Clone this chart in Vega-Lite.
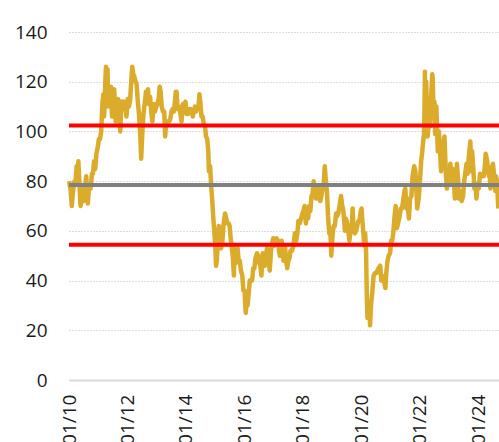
{
  "$schema": "https://vega.github.io/schema/vega-lite/v6.json",
  "width": 430,
  "height": 348,
  "autosize": {"type": "none"},
  "padding": {"left": 69, "top": 32, "right": 0, "bottom": 62},
  "config": {"view": {"stroke": null}, "font": "Open Sans"},
  "layer": [
    {
      "data": {"values": [
        {"date":"2010-01-04","price":80},{"date":"2010-01-12","price":78},{"date":"2010-01-20","price":77},{"date":"2010-02-05","price":70},{"date":"2010-02-15","price":74},{"date":"2010-02-25","price":77},{"date":"2010-03-10","price":80},{"date":"2010-03-25","price":80},{"date":"2010-04-06","price":86},{"date":"2010-04-20","price":84},{"date":"2010-04-28","price":88},{"date":"2010-05-10","price":80},{"date":"2010-05-25","price":70},{"date":"2010-06-08","price":72},{"date":"2010-06-21","price":78},{"date":"2010-07-01","price":72},{"date":"2010-07-15","price":76},{"date":"2010-08-04","price":82},{"date":"2010-08-24","price":71},{"date":"2010-09-10","price":78},{"date":"2010-09-28","price":77},{"date":"2010-10-15","price":83},{"date":"2010-10-28","price":83},{"date":"2010-11-10","price":88},{"date":"2010-11-25","price":85},{"date":"2010-12-10","price":91},{"date":"2010-12-28","price":94},
        {"date":"2011-01-10","price":97},{"date":"2011-01-25","price":97},{"date":"2011-02-07","price":100},{"date":"2011-02-24","price":112},{"date":"2011-03-08","price":115},{"date":"2011-03-16","price":106},{"date":"2011-03-25","price":115},{"date":"2011-04-08","price":126},{"date":"2011-04-15","price":123},{"date":"2011-04-28","price":125},{"date":"2011-05-06","price":110},{"date":"2011-05-13","price":113},{"date":"2011-05-25","price":115},{"date":"2011-06-10","price":118},{"date":"2011-06-23","price":106},{"date":"2011-07-05","price":112},{"date":"2011-07-20","price":117},{"date":"2011-08-08","price":104},{"date":"2011-08-22","price":108},{"date":"2011-09-05","price":113},{"date":"2011-09-20","price":110},{"date":"2011-10-04","price":100},{"date":"2011-10-18","price":112},{"date":"2011-11-02","price":109},{"date":"2011-11-15","price":112},{"date":"2011-12-05","price":110},{"date":"2011-12-20","price":106},
        {"date":"2012-01-05","price":113},{"date":"2012-01-20","price":110},{"date":"2012-02-03","price":112},{"date":"2012-02-20","price":121},{"date":"2012-03-01","price":126},{"date":"2012-03-15","price":123},{"date":"2012-03-28","price":122},{"date":"2012-04-12","price":120},{"date":"2012-04-25","price":119},{"date":"2012-05-10","price":112},{"date":"2012-05-25","price":107},{"date":"2012-06-12","price":97},{"date":"2012-06-21","price":89},{"date":"2012-07-05","price":99},{"date":"2012-07-20","price":107},{"date":"2012-08-08","price":112},{"date":"2012-08-20","price":116},{"date":"2012-09-07","price":115},{"date":"2012-09-14","price":117},{"date":"2012-09-25","price":111},{"date":"2012-10-10","price":114},{"date":"2012-10-25","price":108},{"date":"2012-11-08","price":104},{"date":"2012-11-25","price":111},{"date":"2012-12-10","price":108},{"date":"2012-12-28","price":110},
        {"date":"2013-01-10","price":111},{"date":"2013-01-25","price":113},{"date":"2013-02-08","price":118},{"date":"2013-02-20","price":116},{"date":"2013-03-05","price":110},{"date":"2013-03-20","price":108},{"date":"2013-04-05","price":108},{"date":"2013-04-17","price":98},{"date":"2013-05-02","price":104},{"date":"2013-05-20","price":104},{"date":"2013-06-05","price":104},{"date":"2013-06-20","price":105},{"date":"2013-07-05","price":108},{"date":"2013-07-19","price":109},{"date":"2013-08-05","price":108},{"date":"2013-08-28","price":116},{"date":"2013-09-06","price":116},{"date":"2013-09-20","price":109},{"date":"2013-10-08","price":110},{"date":"2013-10-25","price":107},{"date":"2013-11-07","price":104},{"date":"2013-11-25","price":111},{"date":"2013-12-10","price":109},{"date":"2013-12-27","price":112},
        {"date":"2014-01-10","price":107},{"date":"2014-01-28","price":107},{"date":"2014-02-12","price":109},{"date":"2014-02-27","price":109},{"date":"2014-03-14","price":108},{"date":"2014-03-28","price":106},{"date":"2014-04-10","price":108},{"date":"2014-04-25","price":110},{"date":"2014-05-09","price":108},{"date":"2014-05-23","price":110},{"date":"2014-06-06","price":109},{"date":"2014-06-19","price":115},{"date":"2014-06-30","price":112},{"date":"2014-07-15","price":106},{"date":"2014-07-30","price":106},{"date":"2014-08-13","price":103},{"date":"2014-08-28","price":102},{"date":"2014-09-10","price":98},{"date":"2014-09-25","price":97},{"date":"2014-10-08","price":92},{"date":"2014-10-16","price":84},{"date":"2014-10-31","price":86},{"date":"2014-11-13","price":78},{"date":"2014-11-27","price":72},{"date":"2014-12-10","price":65},{"date":"2014-12-22","price":60},
        {"date":"2015-01-05","price":53},{"date":"2015-01-13","price":46},{"date":"2015-01-23","price":48},{"date":"2015-02-05","price":57},{"date":"2015-02-17","price":62},{"date":"2015-03-03","price":60},{"date":"2015-03-17","price":53},{"date":"2015-04-01","price":55},{"date":"2015-04-15","price":62},{"date":"2015-05-06","price":67},{"date":"2015-05-20","price":65},{"date":"2015-06-05","price":63},{"date":"2015-06-19","price":63},{"date":"2015-07-02","price":62},{"date":"2015-07-15","price":57},{"date":"2015-07-29","price":53},{"date":"2015-08-10","price":50},{"date":"2015-08-24","price":42},{"date":"2015-08-31","price":53},{"date":"2015-09-15","price":47},{"date":"2015-09-30","price":48},{"date":"2015-10-09","price":53},{"date":"2015-10-23","price":48},{"date":"2015-11-06","price":48},{"date":"2015-11-20","price":44},{"date":"2015-12-07","price":42},{"date":"2015-12-21","price":36},
        {"date":"2016-01-05","price":36},{"date":"2016-01-15","price":29},{"date":"2016-01-20","price":27},{"date":"2016-02-01","price":34},{"date":"2016-02-11","price":30},{"date":"2016-02-25","price":35},{"date":"2016-03-10","price":40},{"date":"2016-03-24","price":40},{"date":"2016-04-08","price":40},{"date":"2016-04-22","price":45},{"date":"2016-05-06","price":45},{"date":"2016-05-20","price":49},{"date":"2016-06-08","price":51},{"date":"2016-06-22","price":50},{"date":"2016-07-06","price":47},{"date":"2016-07-20","price":46},{"date":"2016-08-02","price":42},{"date":"2016-08-19","price":51},{"date":"2016-09-01","price":46},{"date":"2016-09-15","price":46},{"date":"2016-09-29","price":49},{"date":"2016-10-10","price":53},{"date":"2016-10-25","price":50},{"date":"2016-11-14","price":44},{"date":"2016-11-30","price":52},{"date":"2016-12-14","price":55},{"date":"2016-12-28","price":57},
        {"date":"2017-01-10","price":54},{"date":"2017-01-25","price":55},{"date":"2017-02-10","price":57},{"date":"2017-02-24","price":56},{"date":"2017-03-10","price":52},{"date":"2017-03-22","price":50},{"date":"2017-04-12","price":56},{"date":"2017-04-26","price":52},{"date":"2017-05-05","price":48},{"date":"2017-05-24","price":54},{"date":"2017-06-07","price":48},{"date":"2017-06-21","price":45},{"date":"2017-07-05","price":48},{"date":"2017-07-19","price":49},{"date":"2017-08-01","price":52},{"date":"2017-08-18","price":52},{"date":"2017-09-06","price":54},{"date":"2017-09-25","price":59},{"date":"2017-10-10","price":56},{"date":"2017-10-26","price":59},{"date":"2017-11-07","price":64},{"date":"2017-11-24","price":63},{"date":"2017-12-12","price":65},{"date":"2017-12-27","price":67},
        {"date":"2018-01-08","price":68},{"date":"2018-01-24","price":70},{"date":"2018-02-09","price":63},{"date":"2018-02-23","price":67},{"date":"2018-03-09","price":65},{"date":"2018-03-23","price":70},{"date":"2018-04-06","price":68},{"date":"2018-04-20","price":74},{"date":"2018-05-04","price":75},{"date":"2018-05-17","price":80},{"date":"2018-05-30","price":77},{"date":"2018-06-15","price":73},{"date":"2018-06-27","price":77},{"date":"2018-07-10","price":78},{"date":"2018-07-24","price":73},{"date":"2018-08-08","price":72},{"date":"2018-08-22","price":74},{"date":"2018-09-05","price":77},{"date":"2018-09-20","price":79},{"date":"2018-10-03","price":86},{"date":"2018-10-17","price":80},{"date":"2018-10-30","price":76},{"date":"2018-11-13","price":66},{"date":"2018-11-28","price":59},{"date":"2018-12-12","price":60},{"date":"2018-12-24","price":50},
        {"date":"2019-01-08","price":58},{"date":"2019-01-22","price":62},{"date":"2019-02-05","price":62},{"date":"2019-02-22","price":67},{"date":"2019-03-08","price":66},{"date":"2019-03-22","price":67},{"date":"2019-04-05","price":70},{"date":"2019-04-24","price":74},{"date":"2019-05-10","price":70},{"date":"2019-05-24","price":68},{"date":"2019-06-12","price":60},{"date":"2019-06-21","price":65},{"date":"2019-07-05","price":64},{"date":"2019-07-18","price":62},{"date":"2019-08-07","price":56},{"date":"2019-08-22","price":60},{"date":"2019-09-06","price":61},{"date":"2019-09-16","price":69},{"date":"2019-09-30","price":60},{"date":"2019-10-15","price":59},{"date":"2019-10-30","price":60},{"date":"2019-11-12","price":62},{"date":"2019-11-27","price":64},{"date":"2019-12-11","price":64},{"date":"2019-12-27","price":68},
        {"date":"2020-01-06","price":69},{"date":"2020-01-17","price":64},{"date":"2020-01-31","price":58},{"date":"2020-02-10","price":54},{"date":"2020-02-20","price":59},{"date":"2020-03-02","price":52},{"date":"2020-03-12","price":33},{"date":"2020-03-20","price":25},{"date":"2020-04-01","price":25},{"date":"2020-04-14","price":29},{"date":"2020-04-21","price":22},{"date":"2020-05-05","price":31},{"date":"2020-05-18","price":35},{"date":"2020-06-05","price":42},{"date":"2020-06-22","price":43},{"date":"2020-07-08","price":43},{"date":"2020-07-22","price":44},{"date":"2020-08-05","price":45},{"date":"2020-08-26","price":46},{"date":"2020-09-08","price":40},{"date":"2020-09-22","price":42},{"date":"2020-10-05","price":41},{"date":"2020-10-30","price":37},{"date":"2020-11-10","price":43},{"date":"2020-11-25","price":48},{"date":"2020-12-10","price":50},{"date":"2020-12-28","price":51},
        {"date":"2021-01-08","price":56},{"date":"2021-01-22","price":56},{"date":"2021-02-05","price":59},{"date":"2021-02-25","price":67},{"date":"2021-03-08","price":70},{"date":"2021-03-23","price":61},{"date":"2021-04-06","price":63},{"date":"2021-04-26","price":66},{"date":"2021-05-10","price":69},{"date":"2021-05-25","price":69},{"date":"2021-06-08","price":72},{"date":"2021-06-25","price":76},{"date":"2021-07-06","price":77},{"date":"2021-07-19","price":69},{"date":"2021-08-04","price":70},{"date":"2021-08-20","price":65},{"date":"2021-09-03","price":73},{"date":"2021-09-20","price":74},{"date":"2021-10-05","price":82},{"date":"2021-10-25","price":86},{"date":"2021-11-09","price":84},{"date":"2021-11-26","price":73},{"date":"2021-12-02","price":69},{"date":"2021-12-20","price":73},
        {"date":"2022-01-05","price":80},{"date":"2022-01-20","price":88},{"date":"2022-02-03","price":92},{"date":"2022-02-14","price":96},{"date":"2022-02-24","price":99},{"date":"2022-03-01","price":105},{"date":"2022-03-08","price":124},{"date":"2022-03-16","price":98},{"date":"2022-03-24","price":120},{"date":"2022-04-11","price":98},{"date":"2022-04-26","price":105},{"date":"2022-05-10","price":102},{"date":"2022-05-25","price":114},{"date":"2022-06-08","price":123},{"date":"2022-06-14","price":121},{"date":"2022-06-22","price":110},{"date":"2022-07-05","price":112},{"date":"2022-07-14","price":99},{"date":"2022-07-29","price":110},{"date":"2022-08-16","price":92},{"date":"2022-08-30","price":100},{"date":"2022-09-15","price":91},{"date":"2022-09-26","price":84},{"date":"2022-10-10","price":96},{"date":"2022-10-25","price":93},{"date":"2022-11-07","price":98},{"date":"2022-11-25","price":83},{"date":"2022-12-07","price":77},{"date":"2022-12-20","price":80},
        {"date":"2023-01-06","price":79},{"date":"2023-01-20","price":87},{"date":"2023-02-03","price":80},{"date":"2023-02-15","price":85},{"date":"2023-03-01","price":84},{"date":"2023-03-17","price":73},{"date":"2023-03-28","price":78},{"date":"2023-04-12","price":87},{"date":"2023-04-28","price":80},{"date":"2023-05-04","price":73},{"date":"2023-05-22","price":76},{"date":"2023-06-12","price":72},{"date":"2023-06-28","price":74},{"date":"2023-07-12","price":80},{"date":"2023-07-28","price":84},{"date":"2023-08-10","price":87},{"date":"2023-08-24","price":83},{"date":"2023-09-08","price":90},{"date":"2023-09-27","price":96},{"date":"2023-10-06","price":84},{"date":"2023-10-19","price":92},{"date":"2023-11-03","price":85},{"date":"2023-11-16","price":77},{"date":"2023-12-01","price":79},{"date":"2023-12-12","price":73},{"date":"2023-12-27","price":79},
        {"date":"2024-01-10","price":77},{"date":"2024-01-26","price":83},{"date":"2024-02-09","price":82},{"date":"2024-02-26","price":82},{"date":"2024-03-12","price":82},{"date":"2024-03-26","price":86},{"date":"2024-04-05","price":91},{"date":"2024-04-12","price":90},{"date":"2024-04-25","price":88},{"date":"2024-05-10","price":83},{"date":"2024-05-30","price":81},{"date":"2024-06-04","price":77},{"date":"2024-06-20","price":85},{"date":"2024-07-05","price":87},{"date":"2024-07-24","price":81},{"date":"2024-08-05","price":76},{"date":"2024-08-12","price":82},{"date":"2024-08-26","price":80},{"date":"2024-09-04","price":73},{"date":"2024-09-10","price":69}
      ]},
      "mark": {"type": "line", "color": "#DBAB2B", "strokeWidth": 4.5, "strokeJoin": "round"},
      "encoding": {
        "x": {
          "field": "date", "type": "temporal",
          "scale": {"type": "utc", "domain": ["2010-01-01", "2024-09-19"], "nice": false},
          "axis": {
            "title": null,
            "labelExpr": "utcFormat(datum.value, '%m/%y')",
            "tickCount": {"interval": "year", "step": 2},
            "labelAngle": 270, "labelFontSize": 19, "labelColor": "#1a1a1a",
            "labelPadding": 14, "labelFlush": false, "labelOverlap": false,
            "ticks": false, "grid": false,
            "domainColor": "#d9d9d9", "domainWidth": 2
          }
        },
        "y": {
          "field": "price", "type": "quantitative",
          "scale": {"domain": [0, 140], "nice": false},
          "axis": {
            "title": null, "values": [0, 20, 40, 60, 80, 100, 120, 140],
            "labelFontSize": 19, "labelColor": "#1a1a1a", "labelPadding": 22,
            "ticks": false, "domain": false,
            "grid": true, "gridDash": [1, 2], "gridColor": "#bdbdbd", "gridWidth": 1
          }
        }
      }
    },
    {
      "data": {"values": [{"level": "mean", "v": 78.4}]},
      "mark": {"type": "rule", "color": "#808080", "strokeWidth": 4},
      "encoding": {"y": {"field": "v", "type": "quantitative"}}
    },
    {
      "data": {"values": [{"level": "upper", "v": 102.4}, {"level": "lower", "v": 54.4}]},
      "mark": {"type": "rule", "color": "#FF0000", "strokeWidth": 4},
      "encoding": {"y": {"field": "v", "type": "quantitative"}}
    }
  ]
}
